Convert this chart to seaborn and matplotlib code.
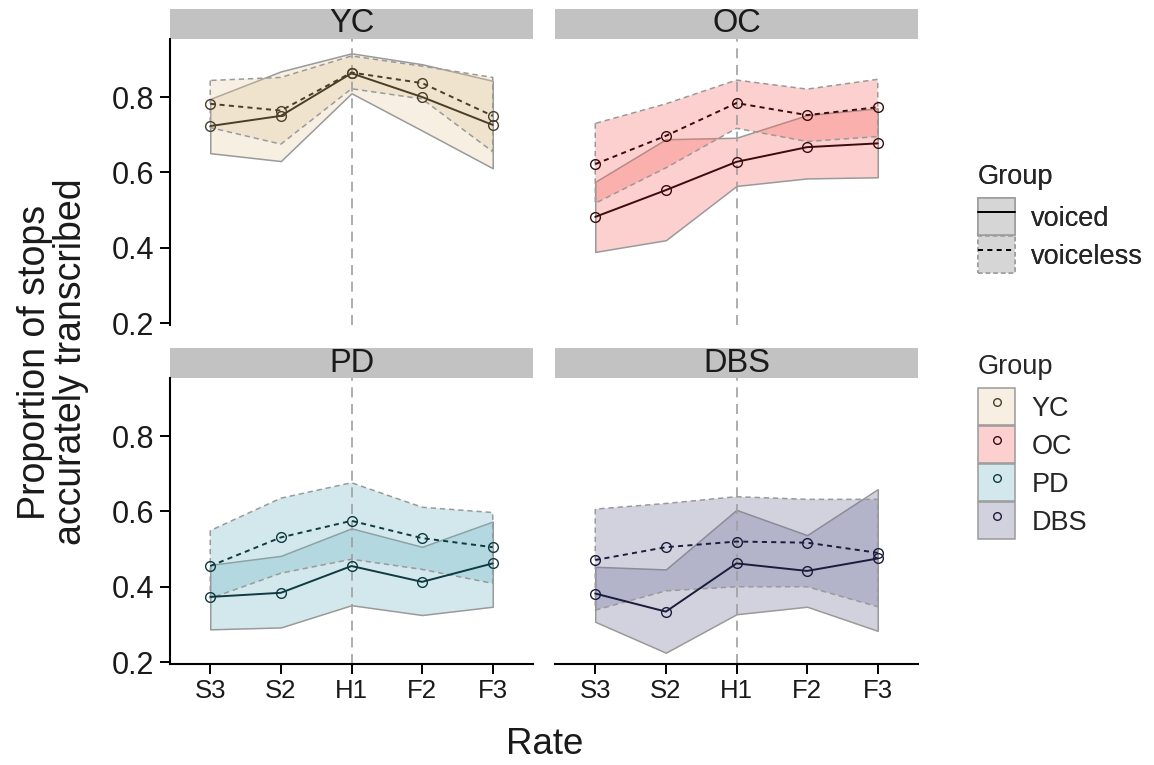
import numpy as np
import pandas as pd
import matplotlib
matplotlib.use("Agg")
import matplotlib.pyplot as plt
from matplotlib.patches import Patch, Rectangle
from matplotlib.lines import Line2D
from matplotlib.legend_handler import HandlerTuple
import seaborn as sns

# ---- data -------------------------------------------------------------
rates = ["S3", "S2", "H1", "F2", "F3"]
groups = ["YC", "OC", "PD", "DBS"]

voiced_mean = {
    "YC": [0.723, 0.750, 0.863, 0.800, 0.726],
    "OC": [0.482, 0.553, 0.628, 0.667, 0.677],
    "PD": [0.373, 0.384, 0.455, 0.413, 0.462],
    "DBS": [0.382, 0.334, 0.462, 0.442, 0.475],
}
voiced_lo = {
    "YC": [0.651, 0.630, 0.810, 0.711, 0.611],
    "OC": [0.389, 0.420, 0.564, 0.584, 0.587],
    "PD": [0.287, 0.292, 0.351, 0.325, 0.347],
    "DBS": [0.307, 0.225, 0.327, 0.347, 0.283],
}
voiced_hi = {
    "YC": [0.795, 0.868, 0.916, 0.887, 0.843],
    "OC": [0.575, 0.688, 0.692, 0.752, 0.770],
    "PD": [0.458, 0.482, 0.555, 0.506, 0.573],
    "DBS": [0.453, 0.446, 0.604, 0.537, 0.659],
}
voiceless_mean = {
    "YC": [0.782, 0.764, 0.865, 0.837, 0.750],
    "OC": [0.622, 0.697, 0.784, 0.752, 0.773],
    "PD": [0.455, 0.531, 0.575, 0.529, 0.505],
    "DBS": [0.471, 0.505, 0.520, 0.517, 0.490],
}
voiceless_lo = {
    "YC": [0.719, 0.675, 0.822, 0.795, 0.655],
    "OC": [0.518, 0.612, 0.717, 0.682, 0.695],
    "PD": [0.369, 0.436, 0.473, 0.446, 0.409],
    "DBS": [0.338, 0.389, 0.400, 0.400, 0.347],
}
voiceless_hi = {
    "YC": [0.844, 0.852, 0.909, 0.882, 0.852],
    "OC": [0.730, 0.782, 0.845, 0.821, 0.847],
    "PD": [0.549, 0.635, 0.676, 0.611, 0.597],
    "DBS": [0.606, 0.621, 0.639, 0.632, 0.632],
}

y_ticks = [0.2, 0.4, 0.6, 0.8]

# ---- styling ----------------------------------------------------------
fill_colors = {"YC": "#E4CAA2", "OC": "#F8665F", "PD": "#6CB6C3", "DBS": "#6C6C98"}
line_colors = {"YC": "#4A3E28", "OC": "#3A0C0C", "PD": "#0E3A40", "DBS": "#1A1C3C"}
fill_alpha = 0.3
edge_gray = "#9a9a9a"
strip_gray = "#C2C2C2"
text_col = "#1a1a1a"

sns.set_theme(style="white")
plt.rcParams["font.family"] = ["Liberation Sans", "DejaVu Sans"]

rows = []
for g in groups:
    for i, r in enumerate(rates):
        rows.append(dict(Group=g, x=i, Rate=r, Voicing="voiced",
                         value=voiced_mean[g][i], lo=voiced_lo[g][i], hi=voiced_hi[g][i]))
        rows.append(dict(Group=g, x=i, Rate=r, Voicing="voiceless",
                         value=voiceless_mean[g][i], lo=voiceless_lo[g][i], hi=voiceless_hi[g][i]))
df = pd.DataFrame(rows)

W, H = 1154, 765
fig = plt.figure(figsize=(W / 100, H / 100), dpi=100)

# panel boxes in pixels: (left, top, right, bottom)
boxes = {
    "YC": (170, 39, 533, 325),
    "OC": (555, 39, 918, 325),
    "PD": (170, 378, 533, 664),
    "DBS": (555, 378, 918, 664),
}
strip_h = 30

for gi, g in enumerate(groups):
    l, t, r, b = boxes[g]
    ax = fig.add_axes([l / W, 1 - b / H, (r - l) / W, (b - t) / H])
    sub = df[df.Group == g]
    x = np.arange(len(rates))

    # confidence ribbons
    for v, ls in (("voiced", "-"), ("voiceless", (0, (3.5, 2.5)))):
        s = sub[sub.Voicing == v]
        ax.fill_between(s.x, s.lo, s.hi,
                        facecolor=(*matplotlib.colors.to_rgb(fill_colors[g]), fill_alpha),
                        edgecolor=edge_gray, linewidth=1.1, linestyle=ls, zorder=1)

    ax.axvline(2, color="#9f9f9f", linewidth=1.2, linestyle=(0, (6, 4)), zorder=1.5)

    sns.lineplot(data=sub, x="x", y="value", style="Voicing",
                 style_order=["voiced", "voiceless"],
                 dashes={"voiced": "", "voiceless": (2.6, 2.2)},
                 markers={"voiced": "o", "voiceless": "o"},
                 color=line_colors[g], linewidth=1.4, markersize=7,
                 markerfacecolor="none", markeredgecolor=line_colors[g],
                 markeredgewidth=1.0, errorbar=None, legend=False, ax=ax, zorder=3)

    ax.set_xlim(-0.57, 4.57)
    ax.set_ylim(0.195, 0.954)
    ax.set_xlabel("")
    ax.set_ylabel("")
    for sp in ax.spines.values():
        sp.set_visible(False)

    bottom_row = g in ("PD", "DBS")
    left_col = g in ("YC", "PD")
    if bottom_row:
        ax.spines["bottom"].set_visible(True)
        ax.spines["bottom"].set_linewidth(1.5)
        ax.spines["bottom"].set_color("black")
        ax.set_xticks(x)
        ax.set_xticklabels(rates)
    else:
        ax.set_xticks([])
    if left_col:
        ax.spines["left"].set_visible(True)
        ax.spines["left"].set_linewidth(1.5)
        ax.spines["left"].set_color("black")
        ax.set_yticks(y_ticks)
        ax.set_yticklabels([f"{v:.1f}" for v in y_ticks])
    else:
        ax.set_yticks([])
    ax.tick_params(axis="x", length=7, width=1.4, color="black",
                   labelsize=18.5, labelcolor=text_col, pad=3.5, bottom=bottom_row)
    ax.tick_params(axis="y", length=7, width=1.4, color="black",
                   labelsize=22, labelcolor=text_col, pad=4.5, left=left_col)

    # facet strip
    ax.add_patch(Rectangle((0, 1), 1, strip_h / (b - t), transform=ax.transAxes,
                           facecolor=strip_gray, edgecolor="none", clip_on=False))
    ax.text(0.5, 1 + strip_h / (b - t) / 2, g, transform=ax.transAxes,
            ha="center", va="center", fontsize=23.5, color=text_col)

fig.text(545 / W, 1 - 744 / H, "Rate", ha="center", va="center", fontsize=26.5, color=text_col)
fig.text(53 / W, 1 - 362 / H, "Proportion of stops\naccurately transcribed", rotation=90,
         ha="center", va="center", fontsize=27, color=text_col, linespacing=1.0)

# ---- legends ----------------------------------------------------------
key_gray = "#D6D6D6"
leg_kw = dict(handler_map={tuple: HandlerTuple(ndivide=1)}, loc="upper left",
              frameon=False, fontsize=19.5, title_fontsize=19.5,
              handlelength=1.37, handleheight=1.72, labelspacing=0.04,
              handletextpad=0.6, borderaxespad=0, borderpad=0, alignment="left")

h_voicing = [
    (Patch(facecolor=key_gray, edgecolor=edge_gray, linewidth=1.1, linestyle="-"),
     Line2D([], [], color="black", linewidth=1.4)),
    (Patch(facecolor=key_gray, edgecolor=edge_gray, linewidth=1.1, linestyle=(0, (3, 2))),
     Line2D([], [], color="black", linewidth=1.4, linestyle=(0, (2.6, 2.2)))),
]
leg1 = fig.legend(h_voicing, ["voiced", "voiceless"], title="Group",
                  bbox_to_anchor=(978 / W, 1 - 164 / H), **leg_kw)
leg1._legend_box.sep = 6

h_group = []
for g in groups:
    fc = (*matplotlib.colors.to_rgb(fill_colors[g]), fill_alpha)
    h_group.append((Patch(facecolor=fc, edgecolor=edge_gray, linewidth=1.1),
                    Line2D([], [], linestyle="none", marker="o", markersize=5.5,
                           markerfacecolor="none", markeredgecolor=line_colors[g],
                           markeredgewidth=1.0)))
leg2 = fig.legend(h_group, groups, title="Group", numpoints=1,
                  bbox_to_anchor=(978 / W, 1 - 354 / H), **leg_kw)
leg2._legend_box.sep = 6
fig.add_artist(leg1)

fig.savefig("out.png", dpi=100)
